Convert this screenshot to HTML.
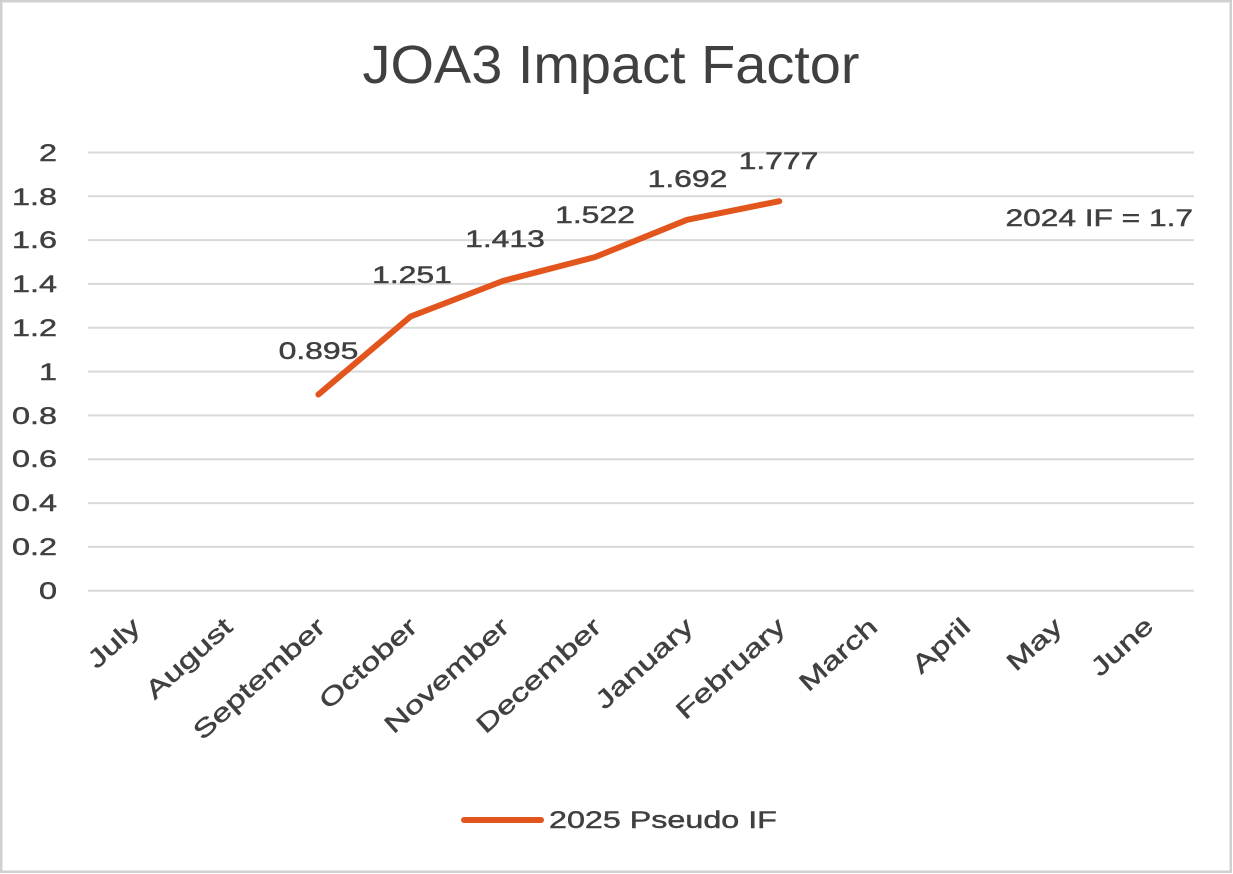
<!DOCTYPE html>
<html><head><meta charset="utf-8"><style>
html,body{margin:0;padding:0;background:#fff;}
svg{display:block;}
text{font-family:"Liberation Sans",Arial,sans-serif;fill:#404040;}
.b{stroke:#404040;stroke-width:0.45;}
</style></head><body>
<svg width="1233" height="874" viewBox="0 0 1233 874" xmlns="http://www.w3.org/2000/svg">
<rect x="0" y="0" width="1233" height="874" fill="#fff"/>
<rect x="1.25" y="1.25" width="1229.5" height="870.5" fill="none" stroke="#d0d0d0" stroke-width="2.5"/>
<text x="611" y="83" font-size="54" text-anchor="middle" textLength="497" lengthAdjust="spacingAndGlyphs">JOA3  Impact Factor</text>
<g stroke="#d9d9d9" stroke-width="2">
<line x1="88" y1="590.7" x2="1194" y2="590.7"/>
<line x1="88" y1="546.9" x2="1194" y2="546.9"/>
<line x1="88" y1="503.1" x2="1194" y2="503.1"/>
<line x1="88" y1="459.2" x2="1194" y2="459.2"/>
<line x1="88" y1="415.4" x2="1194" y2="415.4"/>
<line x1="88" y1="371.6" x2="1194" y2="371.6"/>
<line x1="88" y1="327.8" x2="1194" y2="327.8"/>
<line x1="88" y1="283.9" x2="1194" y2="283.9"/>
<line x1="88" y1="240.1" x2="1194" y2="240.1"/>
<line x1="88" y1="196.3" x2="1194" y2="196.3"/>
<line x1="88" y1="152.5" x2="1194" y2="152.5"/>
</g>
<g font-size="24" text-anchor="end" class="b">
<text transform="translate(57,599) scale(1.35,1)">0</text>
<text transform="translate(57,555) scale(1.35,1)">0.2</text>
<text transform="translate(57,511) scale(1.35,1)">0.4</text>
<text transform="translate(57,467) scale(1.35,1)">0.6</text>
<text transform="translate(57,424) scale(1.35,1)">0.8</text>
<text transform="translate(57,380) scale(1.35,1)">1</text>
<text transform="translate(57,336) scale(1.35,1)">1.2</text>
<text transform="translate(57,292) scale(1.35,1)">1.4</text>
<text transform="translate(57,248) scale(1.35,1)">1.6</text>
<text transform="translate(57,205) scale(1.35,1)">1.8</text>
<text transform="translate(57,161) scale(1.35,1)">2</text>
</g>
<g font-size="25" text-anchor="end" class="b">
<text transform="translate(142,629) rotate(-42) scale(1.37,1)">July</text>
<text transform="translate(234,629) rotate(-42) scale(1.37,1)">August</text>
<text transform="translate(327,629) rotate(-42) scale(1.37,1)">September</text>
<text transform="translate(419,629) rotate(-42) scale(1.37,1)">October</text>
<text transform="translate(511,629) rotate(-42) scale(1.37,1)">November</text>
<text transform="translate(603,629) rotate(-42) scale(1.37,1)">December</text>
<text transform="translate(695,629) rotate(-42) scale(1.37,1)">January</text>
<text transform="translate(787,629) rotate(-42) scale(1.37,1)">February</text>
<text transform="translate(879,629) rotate(-42) scale(1.37,1)">March</text>
<text transform="translate(972,629) rotate(-42) scale(1.37,1)">April</text>
<text transform="translate(1064,629) rotate(-42) scale(1.37,1)">May</text>
<text transform="translate(1155,628) rotate(-42) scale(1.37,1)">June</text>
</g>
<polyline points="318.4,394.5 410.6,316.5 502.8,281.0 594.9,257.1 687.1,219.8 779.3,201.2" fill="none" stroke="#e2561e" stroke-width="6" stroke-linecap="round" stroke-linejoin="round"/>
<g font-size="24" text-anchor="middle" class="b">
<text transform="translate(318.5,359) scale(1.33,1)">0.895</text>
<text transform="translate(412,283) scale(1.33,1)">1.251</text>
<text transform="translate(505,247) scale(1.33,1)">1.413</text>
<text transform="translate(595,223) scale(1.33,1)">1.522</text>
<text transform="translate(687.5,187) scale(1.33,1)">1.692</text>
<text transform="translate(778.5,169) scale(1.33,1)">1.777</text>
</g>
<text font-size="24" text-anchor="end" class="b" transform="translate(1193,226) scale(1.32,1)">2024 IF = 1.7</text>
<line x1="464" y1="820" x2="541" y2="820" stroke="#e2561e" stroke-width="6" stroke-linecap="round"/>
<text font-size="24" class="b" transform="translate(549,828) scale(1.345,1)">2025 Pseudo IF</text>
</svg>
</body></html>
